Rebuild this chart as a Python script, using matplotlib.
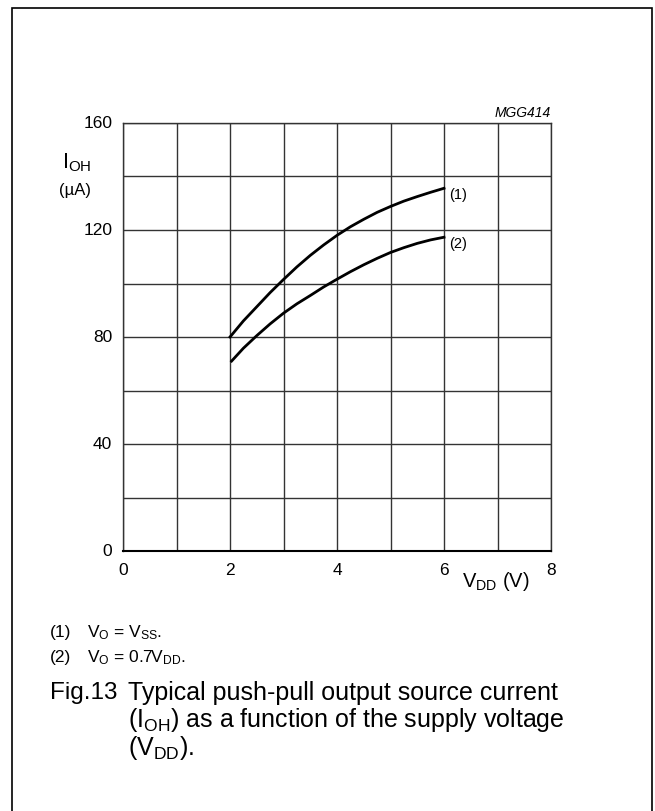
import numpy as np
import matplotlib.pyplot as plt
from matplotlib.patches import Rectangle

plt.rcParams['font.family'] = ['Liberation Sans', 'DejaVu Sans']
plt.rcParams['mathtext.fontset'] = 'custom'
plt.rcParams['mathtext.rm'] = 'Liberation Sans'
plt.rcParams['mathtext.it'] = 'Liberation Sans:italic'

# data
vdd_1 = [2.0, 2.25, 2.5, 2.75, 3.0, 3.25, 3.5, 3.75, 4.0, 4.25, 4.5, 4.75, 5.0, 5.25, 5.5, 5.75, 6.0]
ioh_1 = [80.0, 86.0, 91.3, 96.6, 101.5, 106.2, 110.5, 114.4, 118.0, 121.2, 124.0, 126.6, 128.8, 130.8, 132.5, 134.1, 135.6]
vdd_2 = [2.03, 2.25, 2.5, 2.75, 3.0, 3.25, 3.5, 3.75, 4.0, 4.25, 4.5, 4.75, 5.0, 5.25, 5.5, 5.75, 6.0]
ioh_2 = [71.0, 75.8, 80.5, 84.9, 88.9, 92.4, 95.5, 98.7, 101.6, 104.4, 107.0, 109.4, 111.6, 113.4, 115.0, 116.3, 117.3]
x_ticks = [0, 2, 4, 6, 8]
y_ticks = [0, 40, 80, 120, 160]

W, H = 655, 812
fig = plt.figure(figsize=(W / 100, H / 100), dpi=100)

def px(x, y):
    return x / W, 1 - y / H

# outer frame
fig.patches.append(Rectangle(px(12, 830), 640 / W, 821 / H, transform=fig.transFigure,
                             fill=False, lw=1.2, ec='black'))

ax = fig.add_axes([123 / W, 1 - 552 / H, 428 / W, 428 / H])
ax.set_xlim(0, 8)
ax.set_ylim(0, 160)
ax.set_xticks(np.arange(0, 9, 1))
ax.set_yticks(np.arange(0, 161, 20))
ax.grid(True, color='#333333', lw=1.0)
ax.tick_params(length=0, labelbottom=False, labelleft=False)
for s in ax.spines.values():
    s.set_color('#333333')
    s.set_linewidth(1.0)
ax.spines['bottom'].set_color('black')
ax.spines['bottom'].set_linewidth(1.5)

for v in x_ticks:
    ax.text(v, -4, str(v), ha='center', va='top', fontsize=12.5)
for v in y_ticks:
    ax.text(-0.2, v, str(v), ha='right', va='center', fontsize=12.5)

ax.plot(vdd_1, ioh_1, color='black', lw=2)
ax.plot(vdd_2, ioh_2, color='black', lw=2)
ax.text(6.1, ioh_1[-1] - 2, '(1)', ha='left', va='center', fontsize=10.5)
ax.text(6.1, ioh_2[-1] - 2, '(2)', ha='left', va='center', fontsize=10.5)

fig.text(*px(551, 113), 'MGG414', ha='right', va='center', fontsize=10, style='italic')
fig.text(*px(62, 163), r'I$_\mathrm{OH}$', ha='left', va='center', fontsize=15.5)
fig.text(*px(59, 190), '(µA)', ha='left', va='center', fontsize=12)
fig.text(*px(462, 582), r'V$_\mathrm{DD}$ (V)', ha='left', va='center', fontsize=14.5)

foot = 12.5
fig.text(*px(50, 633), '(1)', ha='left', va='center', fontsize=foot)
fig.text(*px(87, 633), r'V$_\mathrm{O}$ = V$_\mathrm{SS}$.', ha='left', va='center', fontsize=foot)
fig.text(*px(50, 658), '(2)', ha='left', va='center', fontsize=foot)
fig.text(*px(87, 658), r'V$_\mathrm{O}$ = 0.7V$_\mathrm{DD}$.', ha='left', va='center', fontsize=foot)

cap = 18
fig.text(*px(50, 693), 'Fig.13', ha='left', va='center', fontsize=17.5)
fig.text(*px(128, 693), 'Typical push-pull output source current', ha='left', va='center', fontsize=cap)
fig.text(*px(128, 720), r'(I$_\mathrm{OH}$) as a function of the supply voltage', ha='left', va='center', fontsize=cap)
fig.text(*px(128, 748), r'(V$_\mathrm{DD}$).', ha='left', va='center', fontsize=cap)

fig.savefig('out.png', dpi=100)
